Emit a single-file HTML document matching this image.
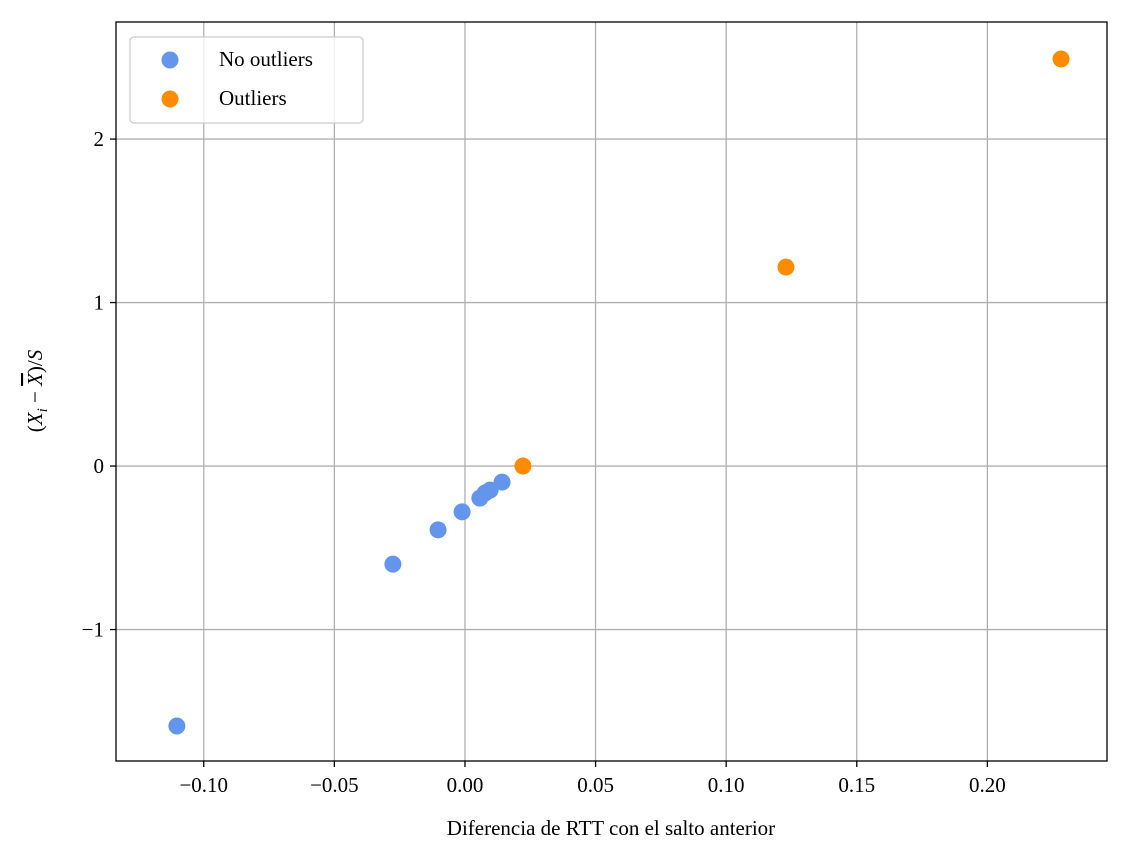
<!DOCTYPE html>
<html><head><meta charset="utf-8"><style>
html,body{margin:0;padding:0;background:#fff;}
svg{display:block;font-family:"Liberation Serif",serif;}
</style></head><body>
<svg id="chart" width="1131" height="862" xmlns="http://www.w3.org/2000/svg">
<rect x="0" y="0" width="1131" height="862" fill="#fff"/>
<g id="grid"></g>
<g id="ticks"></g>
<g id="marks"></g>
<rect x="116" y="22" width="991" height="739" fill="none" stroke="#000" stroke-width="1.3"/>
<text x="611" y="835" font-size="21" text-anchor="middle">Diferencia de RTT con el salto anterior</text>
<text transform="translate(42,391) rotate(-90)" font-size="21" text-anchor="middle">(<tspan font-style="italic">X</tspan><tspan font-style="italic" font-size="15" dy="5">i</tspan><tspan dy="-5"> − </tspan><tspan text-decoration="overline" font-style="italic">X</tspan>)/<tspan font-style="italic">S</tspan></text>
<g>
<rect x="130" y="37" width="233" height="86" rx="4" fill="#fff" fill-opacity="0.8" stroke="#ccc" stroke-width="1.3"/>
<circle cx="170" cy="60" r="8.5" fill="#6495ed"/>
<text x="219" y="66" font-size="21">No outliers</text>
<circle cx="170" cy="99" r="8.5" fill="#ff8c00"/>
<text x="219" y="105" font-size="21">Outliers</text>
</g>
</svg>
<script>
const xTicks = [-0.10, -0.05, 0.00, 0.05, 0.10, 0.15, 0.20];
const xTickLabels = ["−0.10", "−0.05", "0.00", "0.05", "0.10", "0.15", "0.20"];
const yTicks = [-1, 0, 1, 2];
const yTickLabels = ["−1", "0", "1", "2"];
const normalX = [-0.1103, -0.0276, -0.0103, -0.0011, 0.0057, 0.0077, 0.0096, 0.0142];
const normalY = [-1.59, -0.60, -0.39, -0.28, -0.196, -0.165, -0.147, -0.098];
const outlierX = [0.0222, 0.1229, 0.2282];
const outlierY = [0.0, 1.217, 2.49];

const X0 = 116, X1 = 1107, Y0 = 22, Y1 = 761;
const xMin = -0.1336, xMax = 0.2458, yMin = -1.804, yMax = 2.716;
const sx = v => X0 + (v - xMin) / (xMax - xMin) * (X1 - X0);
const sy = v => Y1 - (v - yMin) / (yMax - yMin) * (Y1 - Y0);
const NS = "http://www.w3.org/2000/svg";
const grid = document.getElementById("grid");
const ticks = document.getElementById("ticks");
const marks = document.getElementById("marks");
function mk(tag, attrs, parent) {
  const e = document.createElementNS(NS, tag);
  for (const k in attrs) e.setAttribute(k, attrs[k]);
  parent.appendChild(e);
  return e;
}
xTicks.forEach((v, i) => {
  const x = sx(v);
  const g = mk("line", {x1: x, x2: x, y1: Y0, y2: Y1, stroke: "#b0b0b0", "stroke-width": 1.3}, grid);
  
  
  const t = mk("line", {x1: x, x2: x, y1: Y1, y2: Y1 + 6, stroke: "#000", "stroke-width": 1.3}, ticks);
  
  
  const l = mk("text", {x: x, y: Y1 + 31, "font-size": 21, "text-anchor": "middle"}, ticks);
  l.textContent = xTickLabels[i];
  
  
});
yTicks.forEach((v, i) => {
  const y = sy(v);
  const g = mk("line", {x1: X0, x2: X1, y1: y, y2: y, stroke: "#b0b0b0", "stroke-width": 1.3}, grid);
  
  
  const t = mk("line", {x1: X0 - 6, x2: X0, y1: y, y2: y, stroke: "#000", "stroke-width": 1.3}, ticks);
  
  
  const l = mk("text", {x: X0 - 12, y: y + 7, "font-size": 21, "text-anchor": "end"}, ticks);
  l.textContent = yTickLabels[i];
  
  
});
normalX.forEach((v, i) => {
  const c = mk("circle", {cx: sx(v), cy: sy(normalY[i]), r: 8.5, fill: "#6495ed"}, marks);
  
  
});
outlierX.forEach((v, i) => {
  const c = mk("circle", {cx: sx(v), cy: sy(outlierY[i]), r: 8.5, fill: "#ff8c00"}, marks);
  
  
});
</script>
</body></html>
